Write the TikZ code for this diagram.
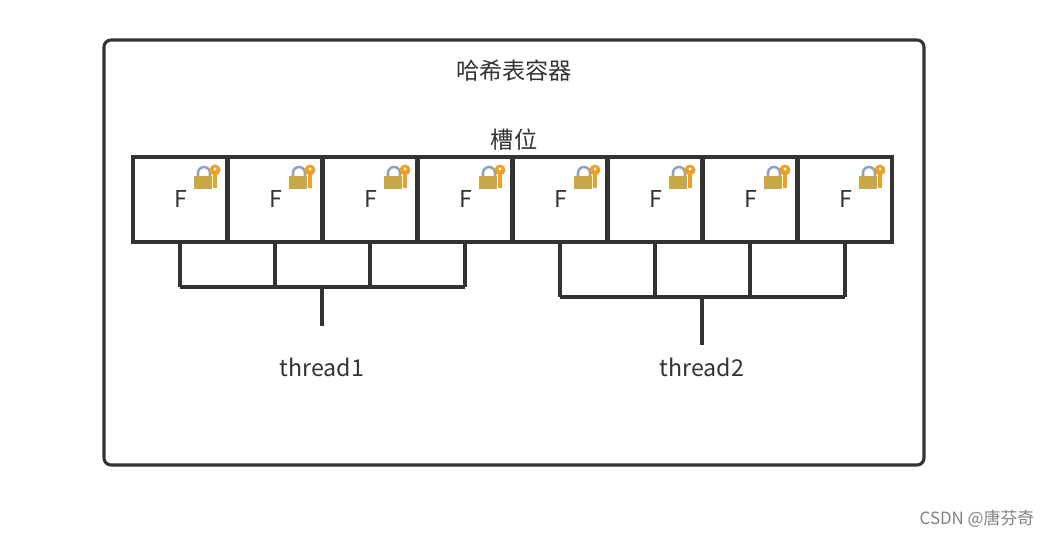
\documentclass[tikz,border=0pt]{standalone}
\usepackage{fontspec}
\setmainfont{Noto Sans CJK SC}
\usetikzlibrary{positioning}
\definecolor{linegray}{HTML}{333333}
\definecolor{lockgold}{HTML}{C9A84A}
\definecolor{keyorange}{HTML}{F0A020}
\definecolor{shackle}{HTML}{8FA3C0}
\tikzset{
  wire/.style={draw=linegray, line width=2.8pt},
  label/.style={font=\fontsize{16.5}{19}\selectfont, text=linegray},
  slot/.style={draw=linegray, line width=2.8pt, minimum width=94\pxu, minimum height=85\pxu, inner sep=0pt},
  lock/.pic={
    \draw[draw=shackle, line width=1.8pt] (-8,1) -- (-8,-3) arc[start angle=180, end angle=360, radius=6] -- (4,1);
    \fill[lockgold] (-12,0) rectangle (6,13);
    \draw[keyorange, line width=2.6pt] (9,-4) -- (9,12);
    \fill[keyorange] (9,-6) circle (5.5);
    \fill[white] (9,-7) circle (1.6);
  }
}
\newlength{\pxu}
\setlength{\pxu}{0.025cm}
\begin{document}
\begin{tikzpicture}[x=0.025cm, y=-0.025cm]
\useasboundingbox (0,0) rectangle (1058,538);

% outer container
\draw[draw=linegray, line width=2.2pt, rounded corners=5pt] (104,40) rectangle (924,465);
\node[label] (title) at (514,71) {哈希表容器};
\node[label] (slots) at (514,140) {槽位};

% slots with locks
\foreach \i/\x in {1/180,2/275,3/370,4/465,5/560,6/655,7/750,8/845} {
  \node[slot] (s\i) at (\x,199.5) {};
  \node[label] (f\i) at (\x+1,199) {F};
  \pic at (\x+26,176) {lock};
}

% thread1 bracket
\foreach \i in {1,...,4} \draw[wire] (s\i.south) -- ++(0,43) coordinate (b\i);
\draw[wire] (b1) -- (b4);
\coordinate (t1top) at (322,285);
\node[label] (thread1) at (322,367) {thread1};
\draw[wire] (t1top) -- (322,326);

% thread2 bracket
\foreach \i in {5,...,8} \draw[wire] (s\i.south) -- ++(0,53) coordinate (b\i);
\draw[wire] (b5) -- (b8);
\coordinate (t2top) at (702,295);
\node[label] (thread2) at (702,367) {thread2};
\draw[wire] (t2top) -- (702,345);

\node[font=\fontsize{12}{14}\selectfont, text=gray] (mark) at (977,519) {CSDN @唐芬奇};
\end{tikzpicture}
\end{document}
